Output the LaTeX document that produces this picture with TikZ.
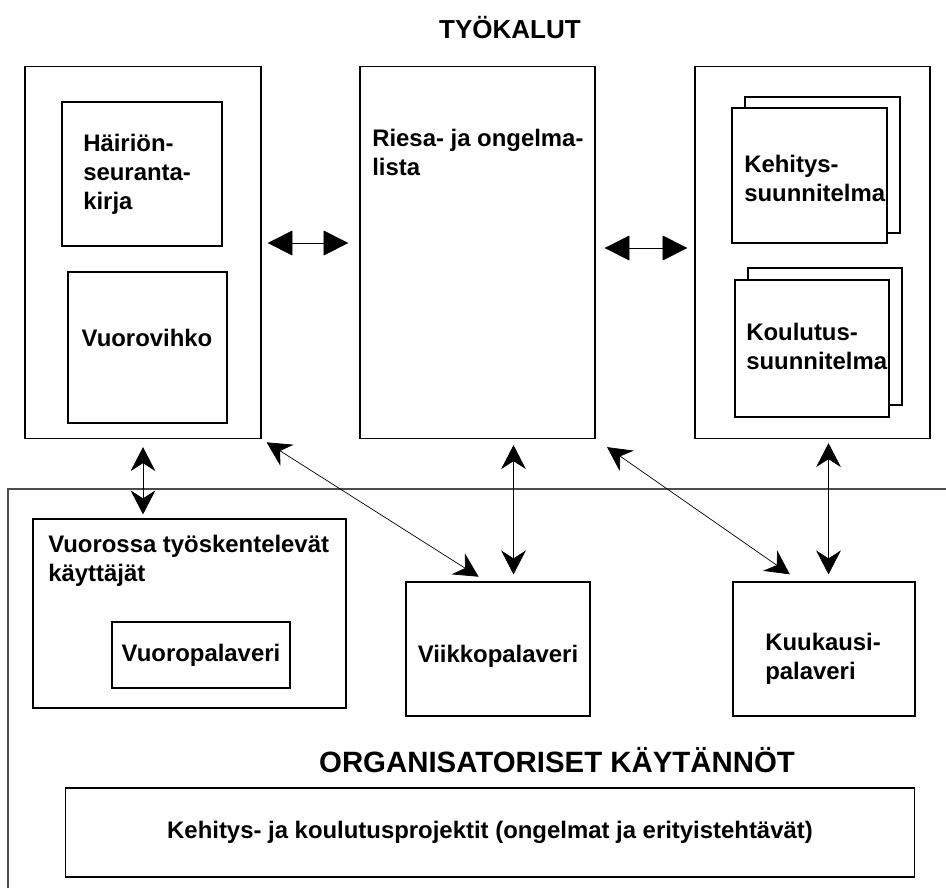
\documentclass[tikz,border=0pt]{standalone}
\usepackage{fontspec}
\setmainfont{Liberation Sans}
\usetikzlibrary{arrows.meta}

\begin{document}
\begin{tikzpicture}[x=.025cm,y=-.025cm,font=\bfseries\fontsize{17}{20.6}\selectfont,
  box/.style={draw=black,line width=.8pt,fill=white,inner sep=0pt},
  lbl/.style={inner sep=0pt,align=left,anchor=west},
  harr/.style={{Triangle[length=.62cm,width=.62cm]}-{Triangle[length=.62cm,width=.62cm]},line width=.5pt},
  varr/.style={{Stealth[length=.6cm,width=.62cm,inset=.2cm]}-{Stealth[length=.6cm,width=.62cm,inset=.2cm]},line width=.5pt}]
\useasboundingbox (0,0) rectangle (946,888);
\draw[black!70,line width=.9pt] (8,888) -- (8,489) -- (946,489);
\node[font=\bfseries\fontsize{18.5}{22}\selectfont] (tyokalut) at (510,28) {TYÖKALUT};
\node[box,minimum width=5.9cm,minimum height=9.3cm] (lbox) at (143,252.5) {};
\node[box,minimum width=4cm,minimum height=3.6cm] (hbox) at (142,174) {};
\node[lbl] (htext) at (83,174) {Häiriön-\\seuranta-\\kirja};
\node[box,minimum width=3.975cm,minimum height=3.775cm] (vbox) at (147.5,347.5) {};
\node[inner sep=0pt] (vtext) at (147,338) {Vuorovihko};
\node[box,minimum width=5.875cm,minimum height=9.3cm] (mbox) at (477.5,252.5) {};
\node[lbl] (mtext) at (372,152) {Riesa- ja ongelma-\\lista};
\node[box,minimum width=5.875cm,minimum height=9.3cm] (rbox) at (812.5,252.5) {};
\node[box,minimum width=3.875cm,minimum height=3.4cm] (kehb) at (822.5,165) {};
\node[box,minimum width=3.875cm,minimum height=3.375cm] (kehf) at (809.5,175.5) {};
\node[lbl] (kehtext) at (744,178) {Kehitys-\\suunnitelma};
\node[box,minimum width=3.85cm,minimum height=3.425cm] (koub) at (825,336.5) {};
\node[box,minimum width=3.85cm,minimum height=3.425cm] (kouf) at (812,348.5) {};
\node[lbl] (koutext) at (746,346) {Koulutus-\\suunnitelma};
\node[box,minimum width=7.825cm,minimum height=4.725cm] (vuorossa) at (189.5,613.5) {};
\node[lbl] (vuotext) at (48,561) {Vuorossa työskentelevät\\käyttäjät};
\node[box,minimum width=4.45cm,minimum height=1.65cm] (vpal) at (201,655) {Vuoropalaveri};
\node[box,minimum width=4.6cm,minimum height=3.35cm] (viikko) at (498,649) {};
\node[inner sep=0pt] (viitext) at (498,656) {Viikkopalaveri};
\node[box,minimum width=4.55cm,minimum height=3.35cm] (kuukausi) at (824,649) {};
\node[lbl] (kuutext) at (765,659) {Kuukausi-\\palaveri};
\node[font=\bfseries\fontsize{20.9}{24}\selectfont] (org) at (557,760) {ORGANISATORISET KÄYTÄNNÖT};
\node[box,minimum width=21.2cm,minimum height=2.225cm] (proj) at (490,832.5) {Kehitys- ja koulutusprojektit (ongelmat ja erityistehtävät)};
\coordinate (hl) at (0,243);
\coordinate (hr) at (0,248);
\draw[harr,shorten <=.15cm,shorten >=.275cm] (lbox.east |- hl) -- (mbox.west |- hl);
\draw[harr,shorten <=.225cm,shorten >=.175cm] (mbox.east |- hr) -- (rbox.west |- hr);
\draw[varr,shorten <=.2cm,shorten >=.1cm] (lbox.south) -- (vuorossa.north -| lbox.south);
\coordinate (mtop) at ([xshift=.9cm]mbox.south);
\coordinate (mbot) at (viikko.north -| mtop);
\draw[varr,shorten <=.15cm,shorten >=.175cm] (mtop) -- (mbot);
\coordinate (rtop) at ([xshift=.4cm]rbox.south);
\coordinate (rbot) at (kuukausi.north -| rtop);
\draw[varr,shorten <=.1cm,shorten >=.175cm] (rtop) -- (rbot);
\draw[varr,shorten <=.15cm,shorten >=.22cm] (lbox.south east) -- ([xshift=-.3cm]viikko.north);
\draw[varr,shorten <=.35cm,shorten >=.31cm] (mbox.south east) -- ([xshift=-.6cm]kuukausi.north);
\end{tikzpicture}
\end{document}
